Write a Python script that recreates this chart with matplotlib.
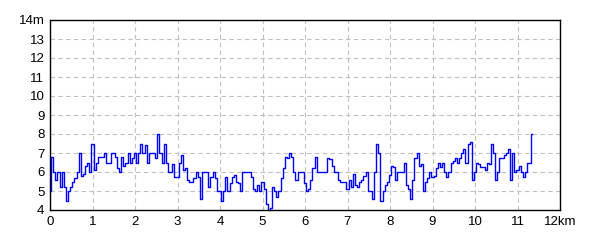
import matplotlib
matplotlib.use("Agg")
import matplotlib.pyplot as plt
import numpy as np

step_km = 0.05
elevation_m = [
    5.0, 6.8, 6.0, 5.6, 6.0, 5.2, 6.0, 5.2, 4.5, 5.0,
    5.2, 5.5, 5.7, 6.0, 7.0, 5.8, 5.9, 6.3, 6.5, 6.0,
    7.5, 6.1, 6.5, 6.8, 6.8, 6.8, 7.0, 6.5, 6.5, 7.0,
    7.0, 6.8, 6.2, 6.0, 6.8, 6.3, 6.5, 7.0, 6.5, 6.75,
    7.0, 6.5, 7.0, 7.5, 7.0, 7.4, 6.5, 7.0, 7.0, 7.0,
    6.75, 8.0, 7.0, 6.5, 7.5, 6.5, 6.0, 6.0, 6.4, 5.75,
    5.75, 6.5, 6.9, 6.1, 6.2, 5.6, 5.5, 5.5, 5.7, 6.0,
    5.75, 4.6, 6.0, 6.0, 6.0, 5.2, 5.75, 6.0, 5.7, 5.0,
    5.0, 4.5, 5.0, 5.75, 5.0, 5.4, 5.75, 5.85, 5.5, 5.4,
    5.0, 6.0, 6.0, 6.0, 6.0, 5.75, 5.1, 5.0, 5.3, 5.0,
    5.5, 5.1, 4.3, 4.0, 4.1, 5.2, 5.0, 4.7, 5.0, 5.7,
    6.2, 6.8, 6.75, 7.0, 6.8, 6.0, 5.6, 6.0, 6.0, 6.0,
    5.4, 5.0, 5.1, 5.6, 6.2, 6.8, 6.0, 6.0, 6.0, 6.0,
    6.0, 6.75, 6.7, 6.3, 6.0, 6.0, 5.6, 5.5, 5.5, 5.5,
    5.1, 5.6, 5.2, 5.9, 5.3, 5.2, 5.5, 5.6, 5.8, 6.0,
    5.0, 5.0, 4.6, 6.0, 7.5, 7.0, 4.5, 5.0, 5.3, 5.5,
    5.85, 6.3, 6.25, 5.6, 6.0, 6.0, 6.0, 6.5, 5.3, 5.1,
    4.6, 5.6, 6.75, 7.0, 6.3, 6.4, 5.0, 5.5, 5.7, 6.0,
    5.75, 5.8, 6.2, 6.5, 6.25, 6.5, 6.0, 5.75, 6.0, 6.5,
    6.6, 6.75, 6.5, 6.75, 7.0, 7.2, 6.5, 7.5, 7.6, 5.6,
    6.0, 6.5, 6.4, 6.25, 6.25, 6.1, 6.5, 6.4, 7.5, 7.0,
    5.6, 6.0, 6.75, 6.75, 6.9, 7.0, 7.2, 5.6, 7.0, 6.0,
    6.1, 6.3, 6.0, 5.75, 6.0, 6.5, 6.5, 8.0,
]
distance_km = np.arange(len(elevation_m)) * step_km

x_ticks = list(range(0, 13))
x_labels = [str(v) for v in range(0, 12)] + ["12km"]
y_ticks = list(range(4, 15))
y_labels = [str(v) for v in range(4, 14)] + ["14m"]

plt.rcParams['font.family'] = ['Liberation Sans Narrow', 'Liberation Sans', 'DejaVu Sans']

fig = plt.figure(figsize=(6, 2.4), dpi=100)
ax = fig.add_axes([50/600, 30/240, 510/600, 190/240])
ax.plot(distance_km, elevation_m, color='#0000ff', linewidth=1.0,
        drawstyle='steps-mid', clip_on=False)
ax.set_xlim(0, 12)
ax.set_ylim(4, 14)
ax.set_xticks(x_ticks)
ax.set_xticklabels(x_labels)
ax.set_yticks(y_ticks)
ax.set_yticklabels(y_labels)
ax.tick_params(length=0, labelsize=9.5, pad=4, colors='black')
ax.grid(True, color='#c0c0c0', linestyle=(0, (4, 3)), linewidth=0.8)
for s in ax.spines.values():
    s.set_color('black')
    s.set_linewidth(1.0)
fig.savefig('out.png', dpi=100, facecolor='white')
